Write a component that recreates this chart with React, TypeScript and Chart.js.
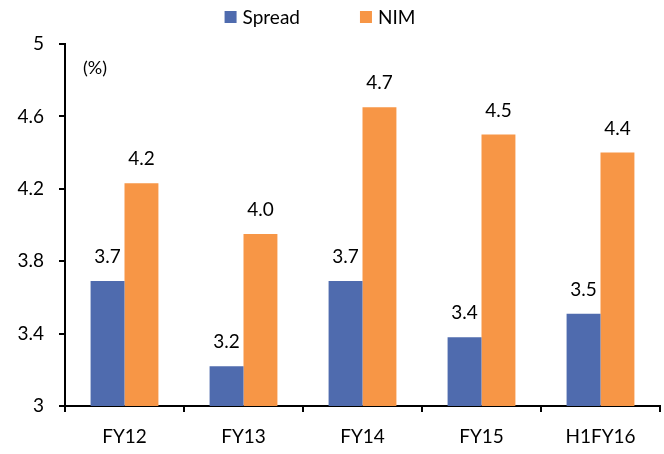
import React, { useEffect, useRef } from "react";
import { Chart, registerables } from "chart.js";

Chart.register(...registerables);

const categories = ["FY12", "FY13", "FY14", "FY15", "H1FY16"];
const spread = [3.69, 3.22, 3.69, 3.38, 3.51];
const nim = [4.23, 3.95, 4.65, 4.5, 4.4];
const seriesNames = ["Spread", "NIM"];
const seriesColors = ["#4F6BAE", "#F79646"];
const unitLabel = "(%)";

const FONT = "Lato, 'Open Sans', sans-serif";
const FONT_SIZE = 19;

const labelsPlugin = {
  id: "barLabels",
  afterDatasetsDraw(chart: any) {
    const ctx = chart.ctx;
    ctx.save();
    ctx.fillStyle = "#000";
    ctx.font = `${FONT_SIZE}px ${FONT}`;
    ctx.textAlign = "center";
    ctx.textBaseline = "alphabetic";
    chart.data.datasets.forEach((ds: any, i: number) => {
      const meta = chart.getDatasetMeta(i);
      meta.data.forEach((bar: any, j: number) => {
        const v = ds.data[j] as number;
        ctx.fillText(v.toFixed(1), bar.x, bar.y - 18);
      });
    });
    ctx.restore();
  },
  afterDraw(chart: any) {
    const ctx = chart.ctx;
    const area = chart.chartArea;
    ctx.save();
    ctx.fillStyle = "#000";
    ctx.font = `${FONT_SIZE - 1}px ${FONT}`;
    ctx.textAlign = "left";
    ctx.textBaseline = "middle";
    ctx.fillText(unitLabel, area.left + 18, area.top + 24);

    // legend row
    ctx.font = `${FONT_SIZE}px ${FONT}`;
    const box = 12;
    const gapText = 6;
    const gapItem = 60;
    const widths = seriesNames.map((n) => box + gapText + ctx.measureText(n).width);
    const total = widths.reduce((a, b) => a + b, 0) + gapItem * (widths.length - 1);
    let x = 320 - total / 2;
    const cy = 17;
    seriesNames.forEach((n, i) => {
      ctx.fillStyle = seriesColors[i];
      ctx.fillRect(x, cy - box / 2, box, box);
      ctx.fillStyle = "#000";
      ctx.fillText(n, x + box + gapText, cy + 1);
      x += widths[i] + gapItem;
    });
    ctx.restore();
  },
};

export default function App() {
  const ref = useRef<HTMLCanvasElement>(null);

  useEffect(() => {
    if (!ref.current) return;
    const chart = new Chart(ref.current, {
      type: "bar",
      data: {
        labels: categories,
        datasets: [
          { label: seriesNames[0], data: spread, backgroundColor: seriesColors[0] },
          { label: seriesNames[1], data: nim, backgroundColor: seriesColors[1] },
        ],
      },
      options: {
        responsive: false,
        animation: false,
        devicePixelRatio: 1,
        layout: { padding: { top: 44, right: 4, left: 0, bottom: 0 } },
        datasets: {
          bar: { barPercentage: 1, categoryPercentage: 0.57 },
        },
        plugins: {
          legend: { display: false },
          tooltip: { enabled: false },
        },
        scales: {
          x: {
            afterFit: (s: any) => {
              s.height = 48;
            },
            grid: {
              display: true,
              drawOnChartArea: false,
              drawTicks: true,
              tickLength: 6,
              color: "#000",
              lineWidth: 2,
              offset: true,
            },
            border: { display: true, color: "#000", width: 2 },
            ticks: {
              color: "#000",
              padding: 13,
              font: { family: FONT, size: FONT_SIZE },
            },
          },
          y: {
            min: 3,
            max: 5,
            afterFit: (s: any) => {
              s.width = 65;
            },
            grid: {
              display: true,
              drawOnChartArea: false,
              drawTicks: true,
              tickLength: 6,
              color: "#000",
              lineWidth: 2,
            },
            border: { display: true, color: "#000", width: 2 },
            ticks: {
              stepSize: 0.4,
              color: "#000",
              padding: 15,
              font: { family: FONT, size: FONT_SIZE },
              callback: (v: any) => String(Number(Number(v).toFixed(1))),
            },
          },
        },
      },
      plugins: [labelsPlugin],
    });
    return () => chart.destroy();
  }, []);

  return (
    <div style={{ position: "fixed", left: 0, top: 0, width: 664, height: 454, background: "#fff" }}>
      <canvas ref={ref} width={664} height={454} />
    </div>
  );
}
